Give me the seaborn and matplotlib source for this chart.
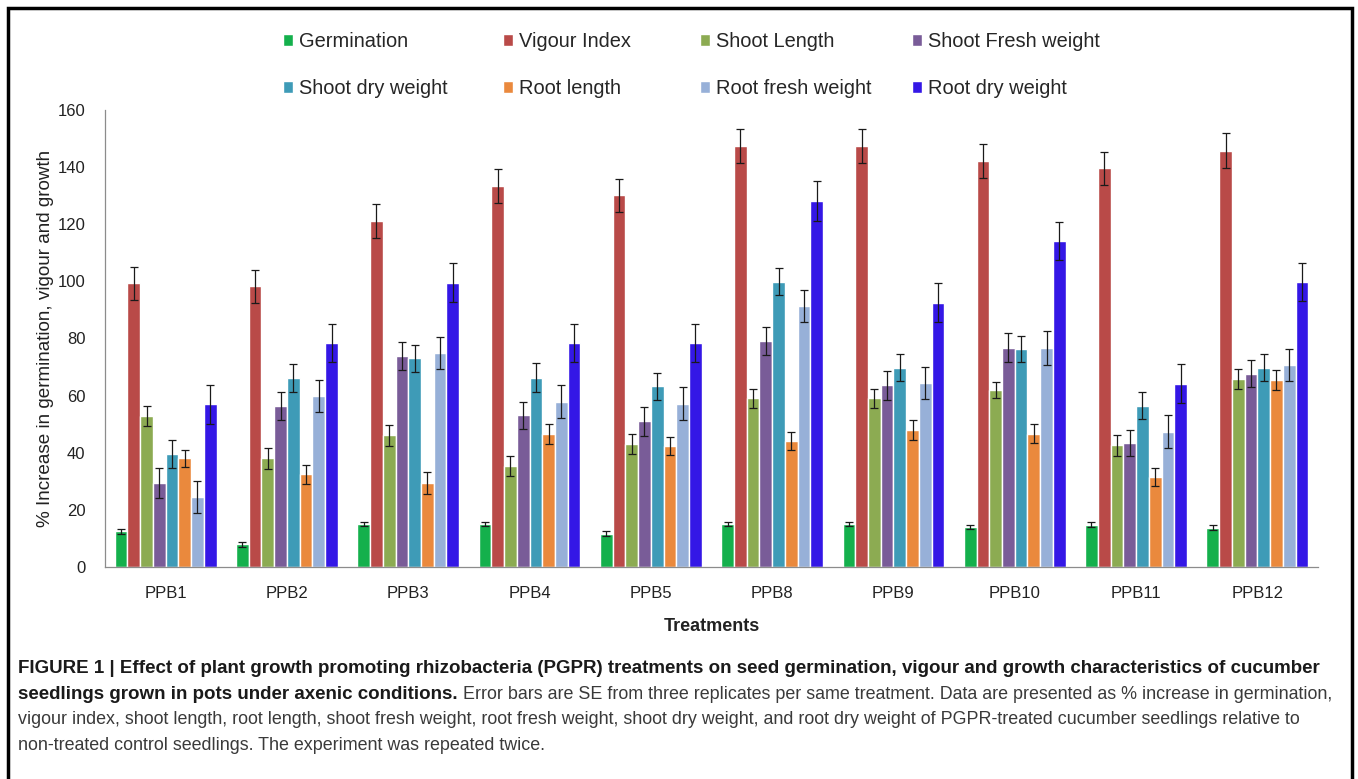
import numpy as np
import pandas as pd
import seaborn as sns
import matplotlib.pyplot as plt
from matplotlib.patches import Rectangle

# ---------------- data ----------------
treatments = ['PPB1', 'PPB2', 'PPB3', 'PPB4', 'PPB5', 'PPB8', 'PPB9', 'PPB10', 'PPB11', 'PPB12']
series_names = ['Germination', 'Vigour Index', 'Shoot Length', 'Shoot Fresh weight',
                'Shoot dry weight', 'Root length', 'Root fresh weight', 'Root dry weight']

germination = [12.5, 7.9, 15.0, 15.0, 11.7, 15.0, 15.0, 14.0, 14.8, 13.8]
vigour_index = [99.3, 98.3, 121.2, 133.4, 130.2, 147.5, 147.5, 142.2, 139.6, 145.8]
shoot_length = [52.8, 38.0, 46.1, 35.3, 43.2, 59.0, 59.0, 61.9, 42.6, 65.8]
shoot_fresh = [29.5, 56.4, 73.9, 53.1, 51.0, 79.1, 63.6, 76.8, 43.4, 67.7]
shoot_dry = [39.7, 66.3, 73.0, 66.3, 63.3, 99.9, 69.8, 76.4, 56.4, 69.8]
root_length = [38.0, 32.4, 29.4, 46.5, 42.4, 44.1, 47.9, 46.7, 31.5, 65.4]
root_fresh = [24.5, 60.0, 75.0, 57.8, 57.2, 91.4, 64.5, 76.8, 47.3, 70.7]
root_dry = [57.0, 78.4, 99.6, 78.4, 78.4, 128.2, 92.6, 114.1, 64.2, 99.9]

germination_se = [0.8, 0.8, 0.8, 0.8, 0.8, 0.8, 0.8, 0.8, 0.8, 0.8]
vigour_se = [5.8, 5.7, 6.0, 5.8, 5.8, 6.0, 6.0, 6.0, 5.8, 6.0]
shoot_length_se = [3.5, 3.8, 3.7, 3.5, 3.5, 3.3, 3.3, 2.9, 3.7, 3.4]
shoot_fresh_se = [5.2, 5.0, 5.0, 4.7, 5.0, 4.8, 5.0, 5.2, 4.7, 4.7]
shoot_dry_se = [4.9, 4.9, 4.7, 5.0, 4.7, 4.7, 4.6, 4.6, 4.7, 4.6]
root_length_se = [3.1, 3.3, 3.7, 3.4, 3.2, 3.2, 3.5, 3.2, 3.2, 3.5]
root_fresh_se = [5.7, 5.6, 5.6, 5.8, 5.8, 5.5, 5.6, 6.0, 5.8, 5.6]
root_dry_se = [6.8, 6.8, 6.9, 6.8, 6.8, 6.9, 6.9, 6.7, 6.7, 6.7]

colors = ['#14b04c', '#b94a48', '#8cab52', '#795c98',
          '#3e9bb7', '#ea893d', '#97b0d8', '#3417e6']

values = [germination, vigour_index, shoot_length, shoot_fresh,
          shoot_dry, root_length, root_fresh, root_dry]
errors = [germination_se, vigour_se, shoot_length_se, shoot_fresh_se,
          shoot_dry_se, root_length_se, root_fresh_se, root_dry_se]

rows = []
for name, vals in zip(series_names, values):
    for t, v in zip(treatments, vals):
        rows.append({'Treatment': t, 'Measure': name, 'Value': v})
df = pd.DataFrame(rows)

# ---------------- style ----------------
sns.set_style('white')
plt.rcParams['font.family'] = ['Liberation Sans', 'DejaVu Sans']

fig = plt.figure(figsize=(13.58, 7.79), dpi=100)
ax = fig.add_axes([105 / 1358, 1 - 567 / 779, (1318 - 105) / 1358, (567 - 110) / 779])

sns.barplot(data=df, x='Treatment', y='Value', hue='Measure', hue_order=series_names,
            order=treatments, palette=colors, saturation=1, width=0.84,
            errorbar=None, ax=ax)

for container, se in zip(ax.containers, errors):
    xs = [b.get_x() + b.get_width() / 2 for b in container]
    ys = [b.get_height() for b in container]
    ax.errorbar(xs, ys, yerr=se, fmt='none', ecolor='#1a1a1a',
                elinewidth=0.9, capsize=3, capthick=0.9, zorder=5)

# axes
ax.set_ylim(0, 160)
ax.set_yticks(range(0, 161, 20))
ax.set_xlim(-0.5, len(treatments) - 0.5)
ax.set_xticks(np.arange(-0.5, len(treatments), 1.0))
ax.set_xticklabels([])
ax.set_xticks(range(len(treatments)), minor=True)
ax.set_xticklabels(treatments, minor=True)
ax.tick_params(axis='x', which='minor', length=0, pad=14, labelsize=12, labelcolor='#222222')
ax.tick_params(axis='x', which='major', length=5, color='#8c8c8c', width=0.8, direction='out')
ax.tick_params(axis='y', length=4, color='#8c8c8c', width=0.8, direction='out',
               labelsize=12, labelcolor='#222222', pad=10)
sns.despine(ax=ax)
for s in ['left', 'bottom']:
    ax.spines[s].set_color('#8c8c8c')
    ax.spines[s].set_linewidth(0.9)

ax.set_xlabel('Treatments', fontsize=13, fontweight='bold', color='#222222', labelpad=12)
ax.set_ylabel('% Increase in germination, vigour and growth', fontsize=13.6,
              color='#222222', labelpad=3)

# legend: two rows of four, fixed column positions like the original
handles, labels = ax.get_legend_handles_labels()
ax.get_legend().remove()
col_x = [283, 503, 700, 912]
for c, x in enumerate(col_x):
    idx = [c, c + 4]
    fig.legend([handles[i] for i in idx], [labels[i] for i in idx],
               ncol=1, loc='upper left', bbox_to_anchor=(x / 1358, 0.959),
               frameon=False, fontsize=14.4, handlelength=0.5, handleheight=0.5,
               handletextpad=0.3, labelspacing=1.4, borderpad=0, borderaxespad=0)

# outer frame
fig.add_artist(Rectangle((8 / 1358, -0.05), (1352 - 8) / 1358, 1 - 8 / 779 + 0.05,
                         transform=fig.transFigure, fill=False, lw=2.5, ec='black'))

# caption
cx = 18 / 1358
bold_size = 13.5
reg_size = 12.9
bold_col = '#1a1a1a'
reg_col = '#3a3a3a'
fig.text(cx, 1 - 673 / 779,
         'FIGURE 1 | Effect of plant growth promoting rhizobacteria (PGPR) treatments on seed '
         'germination, vigour and growth characteristics of cucumber',
         fontsize=bold_size, fontweight='bold', color=bold_col, va='baseline')
t2 = fig.text(cx, 1 - 699 / 779, 'seedlings grown in pots under axenic conditions.',
              fontsize=bold_size, fontweight='bold', color=bold_col, va='baseline')
ax.annotate(' Error bars are SE from three replicates per same treatment. Data are presented '
            'as % increase in germination,', xy=(1, 0), xycoords=t2, va='bottom', ha='left',
            fontsize=reg_size, color=reg_col, annotation_clip=False)
fig.text(cx, 1 - 724 / 779,
         'vigour index, shoot length, root length, shoot fresh weight, root fresh weight, '
         'shoot dry weight, and root dry weight of PGPR-treated cucumber seedlings relative to',
         fontsize=reg_size, color=reg_col, va='baseline')
fig.text(cx, 1 - 750 / 779,
         'non-treated control seedlings. The experiment was repeated twice.',
         fontsize=reg_size, color=reg_col, va='baseline')

fig.savefig('out.png', dpi=100)
